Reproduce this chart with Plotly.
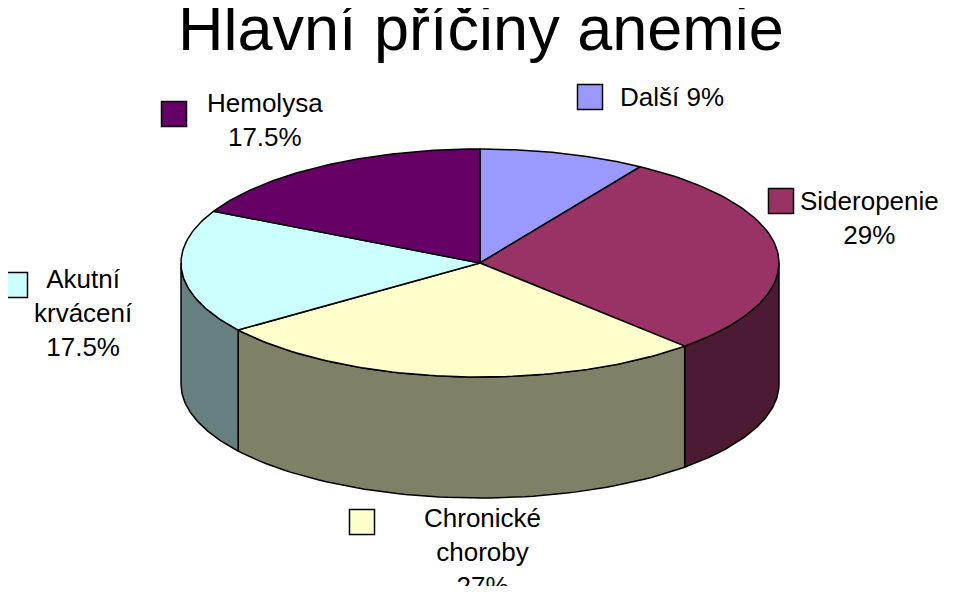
import numpy as np
import plotly.graph_objects as go

labels = ["Další", "Sideropenie", "Chronické choroby", "Akutní krvácení", "Hemolysa"]
values = [9, 29, 27, 17.5, 17.5]
label_text = ["Další 9%", "Sideropenie<br>29%", "Chronické<br>choroby<br>27%",
              "Akutní<br>krvácení<br>17.5%", "Hemolysa<br>17.5%"]
top_colors = ["#9999FF", "#993366", "#FFFFCC", "#CCFFFF", "#660066"]
side_colors = ["#4D4D80", "#4D1A33", "#808066", "#668080", "#330033"]

# geometry in page pixel units
cx, cy, rx, ry, depth = 480, 263, 299, 114, 121
# legend square and text positions
sq_pos = [(590, 97), (781, 201), (362, 522), (15, 285), (174, 114)]
txt_pos = [(672, 97), (869, 218), (482, 552), (83, 313), (265, 120)]

fig = go.Figure()

frac = np.cumsum([0] + values) / sum(values)
starts = 90 - frac[:-1] * 360
ends = 90 - frac[1:] * 360


def pt(th, dy=0):
    t = np.radians(th)
    return cx + rx * np.cos(t), cy - ry * np.sin(t) + dy


# side walls (only front half visible)
for i in range(len(values)):
    a, b = starts[i], ends[i]
    segs = []
    for lo, hi in [(-180, 0), (-540, -360), (180, 360)]:
        s, e = max(b, lo), min(a, hi)
        if e > s:
            segs.append((s, e))
    for s, e in segs:
        th = np.linspace(e, s, 60)
        xt, yt = pt(th)
        xb, yb = pt(th[::-1], depth)
        xs = list(xt) + list(xb) + [xt[0]]
        ys = list(yt) + list(yb) + [yt[0]]
        fig.add_trace(go.Scatter(x=xs, y=ys, fill="toself", fillcolor=side_colors[i],
                                 mode="lines", line=dict(color="black", width=1.5),
                                 hoverinfo="skip", showlegend=False))

# top faces
for i in range(len(values)):
    th = np.linspace(starts[i], ends[i], 80)
    xa, ya = pt(th)
    xs = [cx] + list(xa) + [cx]
    ys = [cy] + list(ya) + [cy]
    fig.add_trace(go.Scatter(x=xs, y=ys, fill="toself", fillcolor=top_colors[i],
                             mode="lines", line=dict(color="black", width=1.5),
                             name=labels[i], showlegend=False))

# legend squares
fig.add_trace(go.Scatter(x=[p[0] for p in sq_pos], y=[p[1] for p in sq_pos], mode="markers",
                         marker=dict(symbol="square", size=25, color=top_colors,
                                     line=dict(color="black", width=1.5)),
                         hoverinfo="skip", showlegend=False))

for i in range(len(values)):
    fig.add_annotation(x=txt_pos[i][0], y=txt_pos[i][1], text=label_text[i], showarrow=False,
                       font=dict(size=26, color="black", family="Liberation Sans, Arial"))

fig.add_annotation(x=481, y=28, text="Hlavní příčiny anemie", showarrow=False,
                   font=dict(size=63, color="black", family="Liberation Sans, Arial"))

# page body has an 8px margin, so the figure is drawn 8px in
fig.update_xaxes(range=[8, 952], visible=False)
fig.update_yaxes(range=[586, 8], visible=False)
fig.update_layout(width=944, height=578, margin=dict(l=0, r=0, t=0, b=0),
                  plot_bgcolor="white", paper_bgcolor="white")
fig.write_html("out.html")
